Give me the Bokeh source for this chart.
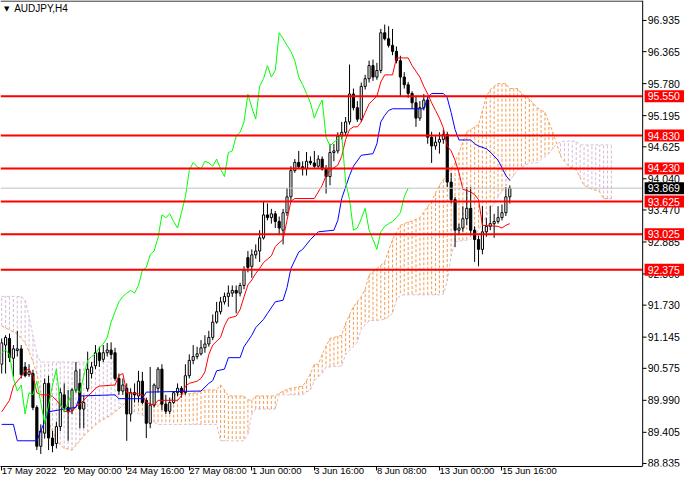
from bokeh.plotting import figure
from bokeh.models import Range1d, FixedTicker
from bokeh.core.properties import value
from bokeh.embed import file_html
from bokeh.resources import INLINE

# AUDJPY H4 candles, bar index 0..130 (4 hour bars)
opens = [
    90.65, 91.00, 91.12, 90.76, 90.90, 90.93, 90.60, 90.46, 90.48, 89.86,
    89.15, 89.39, 90.30, 89.30, 89.20, 89.51, 90.09, 89.86, 89.81, 90.18,
    90.30, 89.83, 90.20, 90.48, 90.62, 90.86, 90.74, 90.86, 90.91, 90.86,
    90.39, 90.16, 90.21, 89.74, 90.13, 90.07, 90.34, 89.99, 89.57, 89.90,
    90.21, 90.56, 89.92, 89.79, 89.95, 90.13, 90.21, 90.13, 90.44, 90.72,
    90.79, 90.84, 90.95, 91.02, 91.14, 91.42, 91.61, 91.79, 91.89, 91.95,
    92.00, 91.95, 92.09, 92.60, 92.44, 92.65, 92.72, 92.96, 93.38, 93.33,
    93.40, 93.26, 93.10, 93.42, 93.71, 94.19, 94.34, 94.26, 94.22, 94.36,
    94.33, 94.27, 94.40, 94.22, 94.08, 94.52, 94.55, 94.82, 94.89, 95.08,
    95.59, 95.34, 95.13, 95.73, 95.87, 96.11, 95.90, 96.02, 96.71, 96.60,
    96.48, 96.37, 96.20, 95.90, 95.76, 95.60, 95.43, 95.15, 95.34, 95.48,
    94.80, 94.64, 94.71, 94.76, 94.85, 93.98, 93.66, 93.10, 93.14, 93.31,
    93.50, 93.10, 92.93, 92.75, 93.07, 93.17, 93.22, 93.26, 93.33, 93.42,
    93.71]
highs = [
    91.12, 91.18, 91.21, 91.00, 91.26, 91.00, 90.69, 90.65, 90.55, 89.90,
    89.55, 90.39, 90.44, 89.43, 89.60, 90.21, 90.30, 90.18, 90.21, 90.69,
    90.56, 90.07, 90.88, 90.69, 91.00, 90.97, 91.00, 91.04, 91.05, 90.95,
    90.48, 90.39, 90.30, 90.21, 90.30, 90.53, 90.51, 90.04, 90.60, 90.30,
    90.60, 90.65, 90.09, 90.04, 90.16, 90.30, 90.25, 90.65, 90.83, 91.00,
    90.97, 91.09, 91.18, 91.26, 91.56, 91.79, 91.88, 91.96, 92.09, 92.09,
    92.09, 92.14, 92.44, 92.72, 92.75, 92.84, 93.10, 93.63, 93.59, 93.49,
    93.45, 93.35, 93.49, 93.87, 94.27, 94.40, 94.55, 94.36, 94.53, 94.45,
    94.55, 94.47, 94.45, 94.29, 94.68, 94.68, 94.89, 95.08, 95.17, 96.13,
    95.69, 95.46, 95.80, 95.94, 96.20, 96.22, 96.16, 96.78, 96.86, 96.83,
    96.78, 96.46, 96.29, 95.99, 95.81, 95.64, 95.55, 95.46, 95.59, 95.55,
    94.90, 94.82, 94.89, 94.94, 94.90, 94.15, 93.71, 93.22, 93.54, 93.89,
    93.89, 93.17, 93.00, 93.54, 93.33, 93.54, 93.40, 93.54, 93.57, 93.89,
    93.92]
lows = [
    90.48, 90.48, 90.69, 90.42, 90.79, 90.39, 90.41, 90.42, 89.81, 89.08,
    89.01, 89.29, 89.08, 89.04, 89.11, 89.43, 89.78, 89.25, 89.74, 90.13,
    89.48, 89.48, 90.15, 90.39, 90.56, 90.60, 90.69, 90.79, 90.74, 90.35,
    90.09, 90.09, 89.25, 89.60, 89.95, 89.95, 89.92, 89.30, 89.48, 89.86,
    90.13, 89.81, 89.74, 89.74, 89.92, 90.07, 90.04, 90.09, 90.39, 90.65,
    90.74, 90.81, 90.86, 90.97, 91.09, 91.39, 91.56, 91.74, 91.70, 91.88,
    91.58, 91.89, 92.02, 92.33, 92.23, 92.58, 92.52, 92.93, 93.28, 93.22,
    93.14, 93.01, 92.84, 93.36, 93.63, 94.15, 94.22, 94.10, 94.10, 94.29,
    94.24, 94.24, 94.19, 93.77, 93.92, 94.36, 94.50, 94.76, 94.83, 95.03,
    95.29, 95.08, 95.08, 95.67, 95.80, 95.83, 95.85, 95.97, 96.57, 96.44,
    96.30, 96.15, 95.55, 95.69, 95.52, 95.32, 94.99, 95.10, 95.29, 94.68,
    94.33, 94.57, 94.50, 94.68, 93.89, 93.59, 92.79, 93.01, 93.07, 93.19,
    93.01, 92.52, 92.44, 92.66, 92.98, 93.10, 92.96, 93.22, 93.28, 93.36,
    93.59]
closes = [
    91.04, 91.14, 90.77, 90.93, 90.93, 90.46, 90.44, 90.51, 89.86, 89.15,
    89.43, 90.30, 89.30, 89.16, 89.51, 90.13, 89.86, 89.78, 90.18, 90.53,
    89.83, 89.95, 90.56, 90.60, 90.86, 90.72, 90.86, 90.91, 90.83, 90.39,
    90.16, 90.27, 89.74, 90.13, 90.09, 90.34, 89.95, 89.57, 89.90, 90.27,
    90.56, 89.92, 89.79, 89.95, 90.13, 90.21, 90.13, 90.44, 90.72, 90.79,
    90.84, 90.95, 91.02, 91.14, 91.42, 91.61, 91.79, 91.89, 91.95, 92.00,
    91.95, 92.09, 92.37, 92.42, 92.65, 92.72, 92.96, 93.38, 93.33, 93.40,
    93.26, 93.14, 93.42, 93.71, 94.19, 94.34, 94.26, 94.22, 94.36, 94.33,
    94.27, 94.40, 94.22, 94.08, 94.52, 94.55, 94.82, 94.89, 95.08, 95.59,
    95.34, 95.13, 95.73, 95.87, 96.11, 95.90, 96.02, 96.71, 96.60, 96.48,
    96.37, 96.20, 95.90, 95.76, 95.60, 95.43, 95.15, 95.34, 95.48, 94.80,
    94.64, 94.71, 94.76, 94.85, 93.98, 93.66, 93.10, 93.14, 93.31, 93.50,
    93.10, 92.93, 92.75, 93.07, 93.17, 93.22, 93.26, 93.33, 93.42, 93.71,
    93.869]

# tenkan / kijun as (bar, price)
tenkan_x = [0, 2, 3, 4, 5, 6, 7, 8, 9, 10, 12, 13, 14, 15, 16, 18, 19, 20, 21, 22,
            23, 24, 25, 29, 30, 31, 32, 35, 36, 37, 39, 40, 45, 46, 47, 48, 50, 51, 52, 53,
            54, 56, 57, 58, 60, 61, 62, 63, 64, 65, 66, 67, 69, 70, 71, 72, 73, 74, 75, 80,
            82, 83, 84, 86, 87, 88, 89, 90, 91, 92, 93, 94, 96, 97, 98, 100, 101, 104, 105, 107,
            108, 109, 110, 111, 112, 113, 114, 115, 116, 117, 118, 120, 121, 122, 123, 127, 128, 129, 130]
tenkan_y = [89.78, 89.99, 90.25, 90.34, 90.42, 90.53, 90.56, 90.44, 90.13, 90.09,
            90.09, 90.06, 89.99, 89.90, 89.79, 89.78, 89.88, 89.92, 89.99, 90.07,
            90.13, 90.21, 90.25, 90.27, 90.44, 90.48, 90.13, 90.11, 90.09, 89.95,
            89.90, 89.99, 89.99, 90.07, 90.25, 90.30, 90.34, 90.39, 90.51, 90.83,
            91.00, 91.14, 91.35, 91.49, 91.53, 91.65, 91.88, 92.10, 92.19, 92.31,
            92.40, 92.51, 92.63, 92.80, 92.87, 92.93, 93.28, 93.63, 93.68, 93.68,
            93.92, 94.10, 94.19, 94.29, 94.45, 94.76, 94.94, 94.99, 94.99, 95.08,
            95.25, 95.41, 95.55, 95.81, 95.94, 95.94, 96.25, 96.25, 96.11, 95.90,
            95.73, 95.59, 95.43, 95.29, 95.15, 94.97, 94.64, 94.55, 94.38, 94.15,
            93.85, 93.80, 93.75, 93.66, 93.19, 93.17, 93.14, 93.19, 93.22]

kijun_x = [0, 3, 4, 9, 10, 11, 12, 16, 19, 20, 29, 30, 36, 37, 51, 53, 54, 55, 57, 58,
           61, 62, 64, 65, 67, 68, 70, 72, 73, 74, 76, 77, 79, 81, 85, 86, 87, 89, 90, 92,
           95, 96, 97, 98, 99, 100, 108, 109, 110, 113, 114, 115, 116, 117, 120, 121, 122, 124, 125, 127,
           128, 129, 130]
kijun_y = [89.55, 89.55, 89.25, 89.25, 89.43, 89.60, 89.78, 89.83, 89.86, 90.07,
           90.09, 90.02, 90.02, 90.14, 90.16, 90.30, 90.35, 90.53, 90.56, 90.77,
           90.77, 90.97, 91.18, 91.32, 91.47, 91.58, 91.79, 91.82, 92.05, 92.40,
           92.70, 92.75, 92.93, 93.07, 93.10, 93.28, 93.68, 94.10, 94.27, 94.47,
           94.50, 94.68, 95.08, 95.20, 95.29, 95.32, 95.32, 95.52, 95.60, 95.60,
           95.52, 95.25, 94.94, 94.75, 94.75, 94.68, 94.64, 94.59, 94.53, 94.38,
           94.24, 94.10, 94.01]

# kumo, one value per bar 0..156 (runs 26 bars past the last candle)
kumo_a = [
    91.35, 91.31, 91.28, 91.24, 91.21, 91.12, 91.04, 90.88, 90.70, 90.48,
    90.13, 89.87, 89.60, 89.43, 89.25, 89.18, 89.11, 89.10, 89.08, 89.17,
    89.25, 89.34, 89.41, 89.47, 89.54, 89.60, 89.64, 89.68, 89.72, 89.78,
    89.83, 89.90, 89.99, 90.09, 90.10, 90.12, 90.13, 89.92, 89.92, 89.92,
    89.92, 89.92, 89.92, 89.92, 90.09, 90.10, 90.10, 90.11, 90.11, 90.12,
    90.13, 90.16, 90.18, 90.18, 90.18, 90.18, 90.27, 90.18, 90.07, 90.07,
    90.07, 90.07, 90.07, 90.00, 89.99, 90.07, 90.07, 90.07, 90.07, 90.07,
    90.07, 90.12, 90.16, 90.19, 90.21, 90.22, 90.24, 90.25, 90.35, 90.48,
    90.65, 90.65, 90.83, 90.98, 91.12, 91.14, 91.16, 91.18, 91.40, 91.55,
    91.70, 91.79, 91.88, 92.02, 92.28, 92.34, 92.40, 92.46, 92.52, 92.73,
    92.93, 93.06, 93.19, 93.22, 93.25, 93.27, 93.30, 93.33, 93.43, 93.53,
    93.63, 93.78, 93.92, 94.02, 94.13, 94.23, 94.33, 94.52, 94.71, 94.90,
    94.94, 94.99, 95.03, 95.29, 95.55, 95.67, 95.73, 95.78, 95.78, 95.78,
    95.69, 95.69, 95.69, 95.60, 95.55, 95.50, 95.42, 95.34, 95.30, 95.25,
    95.08, 94.89, 94.68, 94.45, 94.36, 94.27, 94.24, 94.20, 94.06, 93.92,
    93.89, 93.85, 93.83, 93.80, 93.68, 93.68, 93.68]
kumo_b = [
    91.89, 91.89, 91.89, 91.89, 91.89, 91.89, 91.82, 91.53, 91.18, 90.83,
    90.69, 90.69, 90.69, 90.69, 90.69, 90.69, 90.69, 90.69, 90.69, 90.69,
    90.69, 90.69, 90.69, 90.69, 90.69, 90.69, 90.69, 90.69, 90.69, 90.69,
    89.95, 89.90, 89.83, 89.80, 89.78, 89.75, 89.72, 89.68, 89.64, 89.59,
    89.55, 89.55, 89.55, 89.55, 89.55, 89.55, 89.55, 89.55, 89.55, 89.55,
    89.55, 89.55, 89.55, 89.55, 89.55, 89.55, 89.25, 89.25, 89.25, 89.25,
    89.25, 89.25, 89.25, 89.37, 89.74, 89.83, 89.83, 89.83, 89.83, 89.83,
    89.83, 90.09, 90.09, 90.09, 90.09, 90.09, 90.09, 90.09, 90.14, 90.18,
    90.35, 90.42, 90.48, 90.60, 90.60, 90.61, 90.61, 90.62, 90.83, 90.90,
    90.98, 91.05, 91.30, 91.37, 91.44, 91.45, 91.45, 91.46, 91.47, 91.52,
    91.58, 91.82, 91.91, 91.92, 91.92, 91.92, 91.92, 91.92, 91.92, 91.92,
    91.92, 91.92, 91.92, 91.93, 92.17, 92.63, 92.89, 92.90, 92.91, 92.92,
    92.93, 93.01, 93.10, 93.23, 93.36, 93.48, 93.59, 93.71, 93.81, 93.91,
    94.01, 94.10, 94.20, 94.24, 94.29, 94.33, 94.33, 94.33, 94.39, 94.44,
    94.50, 94.59, 94.68, 94.71, 94.73, 94.73, 94.73, 94.73, 94.66, 94.66,
    94.66, 94.66, 94.66, 94.66, 94.66, 94.66, 94.66]

levels = [95.550, 94.830, 94.230, 93.625, 93.025, 92.375]
last_price = 93.869

price_ticks = [96.935, 96.365, 95.780, 95.195, 94.625, 94.040, 93.470, 92.885,
               92.300, 91.730, 91.145, 90.575, 89.990, 89.405, 88.835]
time_ticks = [0, 16, 32, 48, 64, 80, 96, 112, 128]
time_labels = ["17 May 2022", "20 May 00:00", "24 May 16:00", "27 May 08:00", "1 Jun 00:00",
               "3 Jun 16:00", "8 Jun 08:00", "13 Jun 00:00", "15 Jun 16:00"]

FONT = "Liberation Sans"
X0, XEND = -0.3, 174.7   # last 10.7 bars of width hold the price scale
SCALE_X = 164.0          # bar position of the price scale line
Y0, Y1 = 88.78, 97.30

p = figure(width=684, height=484, x_range=Range1d(X0, XEND), y_range=Range1d(Y0, Y1),
           y_axis_location=None, output_backend="svg", toolbar_location=None,
           min_border_left=0, min_border_top=0, min_border_right=0, min_border_bottom=0)
p.grid.visible = False
p.outline_line_color = None
p.background_fill_color = "white"

# kumo: one dotted histogram line per bar, coloured by which span is on top
kbars = list(range(len(kumo_a)))
kcol = ["sandybrown" if a >= b else "thistle" for a, b in zip(kumo_a, kumo_b)]
p.segment(kbars, kumo_a, kbars, kumo_b, line_color=kcol, line_dash="3 2", line_width=1.1)
p.line(kbars, kumo_a, line_color="sandybrown", line_dash="3 2", line_width=1)
p.line(kbars, kumo_b, line_color="thistle", line_dash="3 2", line_width=1)

# candles
bars = list(range(len(closes)))
up = [c >= o for o, c in zip(opens, closes)]
p.segment(bars, highs, bars, lows, line_color="black", line_width=1)
p.vbar(x=[b for b, u in zip(bars, up) if u], width=0.55,
       top=[c for c, u in zip(closes, up) if u], bottom=[o for o, u in zip(opens, up) if u],
       fill_color="white", line_color="black", line_width=1)
p.vbar(x=[b for b, u in zip(bars, up) if not u], width=0.55,
       top=[o for o, u in zip(opens, up) if not u], bottom=[c for c, u in zip(closes, up) if not u],
       fill_color="black", line_color="black", line_width=1)

# tenkan, kijun, chikou (close shifted 26 bars back)
p.line(tenkan_x, tenkan_y, line_color="red", line_width=1)
p.line(kijun_x, kijun_y, line_color="blue", line_width=1)
p.line([b - 26 for b in bars[26:]], closes[26:], line_color="lime", line_width=1)

# price line and horizontal levels stop at the price scale
p.segment(X0, last_price, SCALE_X, last_price, line_color="#c0c0c0", line_width=1)
p.segment([X0] * len(levels), levels, [SCALE_X] * len(levels), levels,
          line_color="red", line_width=2)

# chart border (top) and price scale
p.segment(X0, Y1 - 0.01, SCALE_X, Y1 - 0.01, line_color="black", line_width=1)
p.segment(SCALE_X, Y0, SCALE_X, Y1, line_color="black", line_width=1)
p.segment([SCALE_X] * len(price_ticks), price_ticks, [SCALE_X + 1.0] * len(price_ticks), price_ticks,
          line_color="black", line_width=1)
p.text(x=[SCALE_X + 1.3] * len(price_ticks), y=price_ticks, text=["%.3f" % t for t in price_ticks],
       text_font=value(FONT), text_font_size="10.5px", text_color="black",
       text_baseline="middle", text_align="left")

tag_y = levels + [last_price]
tag_fill = ["red"] * len(levels) + ["black"]
p.rect(x=[SCALE_X + 5.6] * len(tag_y), y=tag_y, width=10.2, height=12, height_units="screen",
       fill_color=tag_fill, line_color=None)
p.text(x=[SCALE_X + 1.3] * len(tag_y), y=tag_y, text=["%.3f" % v for v in tag_y],
       text_font=value(FONT), text_font_size="10.5px", text_color="white",
       text_baseline="middle", text_align="left")

# symbol caption
p.text(x=[0.6], y=[97.15], text=["\u25bc"], text_font=value("DejaVu Sans"), text_font_size="7px",
       text_baseline="middle", text_color="black")
p.text(x=[3.2], y=[97.15], text=["AUDJPY,H4"], text_font=value(FONT), text_font_size="10px",
       text_baseline="middle", text_color="black")

# time axis
p.xaxis.bounds = (X0, SCALE_X)
p.xaxis.ticker = FixedTicker(ticks=time_ticks)
p.xaxis.major_label_overrides = {t: s for t, s in zip(time_ticks, time_labels)}
p.xaxis.major_label_orientation = -0.000001
p.xaxis.axis_line_color = "black"
p.xaxis.major_tick_line_color = "black"
p.xaxis.minor_tick_line_color = None
p.xaxis.major_tick_in = 0
p.xaxis.major_tick_out = 4
p.xaxis.major_label_text_font = FONT
p.xaxis.major_label_text_font_size = "9.5px"
p.xaxis.major_label_text_color = "black"
p.xaxis.major_label_standoff = 0

open("out.html", "w").write(file_html(p, INLINE))
